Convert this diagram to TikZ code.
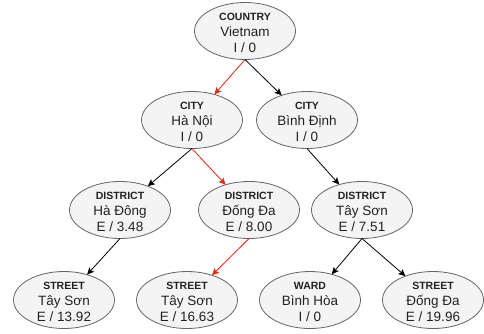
\documentclass[tikz,border=0pt]{standalone}
\usepackage{fontspec}
\setmainfont{Liberation Sans}
\usetikzlibrary{shapes.geometric,arrows.meta}
\definecolor{nodefill}{HTML}{F4F4F4}
\definecolor{nodeline}{HTML}{666666}
\definecolor{txt}{HTML}{222222}
\definecolor{hl}{RGB}{240,40,20}
\newcommand\nd[3]{{\fontsize{10.5}{16}\selectfont\bfseries #1}\\#2\\#3}
\tikzset{
  tnode/.style={ellipse, draw=nodeline, fill=nodefill, line width=0.8pt,
    minimum width=101pt, minimum height=57pt, inner sep=0pt, outer sep=0pt},
  lbl/.style={align=center, text=txt, font=\fontsize{13.5}{16}\selectfont, inner sep=0pt, yshift=-1.5pt},
  edge/.style={line width=0.8pt, -{Stealth[length=7pt,width=6.5pt,inset=1.5pt]}},
  hedge/.style={edge, draw=hl, fill=hl},
}
\begin{document}
\begin{tikzpicture}[x=1pt,y=-1pt]
\useasboundingbox (0,0) rectangle (484,333);
\node[tnode, label={[lbl]center:{\nd{COUNTRY}{Vietnam}{I / 0}}}] (c) at (245,31) {};
\node[tnode, label={[lbl]center:{\nd{CITY}{Hà Nội}{I / 0}}}] (hn) at (192,120) {};
\node[tnode, label={[lbl]center:{\nd{CITY}{Bình Định}{I / 0}}}] (bd) at (307,120) {};
\node[tnode, label={[lbl]center:{\nd{DISTRICT}{Hà Đông}{E / 3.48}}}] (hd) at (120,210) {};
\node[tnode, label={[lbl]center:{\nd{DISTRICT}{Đống Đa}{E / 8.00}}}] (dd) at (249,210) {};
\node[tnode, label={[lbl]center:{\nd{DISTRICT}{Tây Sơn}{E / 7.51}}}] (ts) at (362,210) {};
\node[tnode, label={[lbl]center:{\nd{STREET}{Tây Sơn}{E / 13.92}}}] (s1) at (64,300) {};
\node[tnode, label={[lbl]center:{\nd{STREET}{Tây Sơn}{E / 16.63}}}] (s2) at (187,300) {};
\node[tnode, label={[lbl]center:{\nd{WARD}{Bình Hòa}{I / 0}}}] (w) at (310,300) {};
\node[tnode, label={[lbl]center:{\nd{STREET}{Đống Đa}{E / 19.96}}}] (s4) at (433,300) {};
\draw[hedge] (c.south) -- (hn);
\draw[edge] (c.south) -- (bd);
\draw[edge] (hn.south) -- (hd);
\draw[hedge] (hn.south) -- (dd);
\draw[edge] (bd.south) -- (ts);
\draw[edge] (hd.south) -- (s1);
\draw[hedge] (dd.south) -- (s2);
\draw[edge] (ts.south) -- (w);
\draw[edge] (ts.south) -- (s4);
\end{tikzpicture}
\end{document}
